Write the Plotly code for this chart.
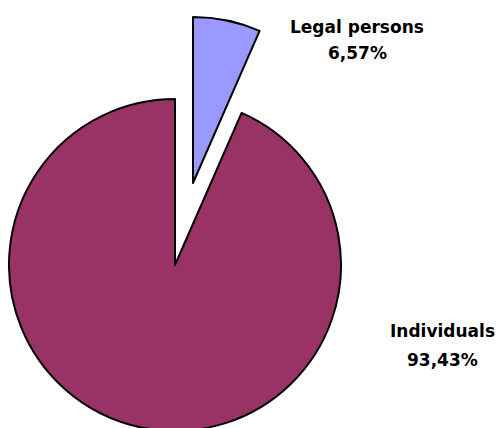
import plotly.graph_objects as go

categories = ["Legal persons", "Individuals"]
values = [6.57, 93.43]
pct_labels = ["6,57%", "93,43%"]
colors = ["#9999FF", "#993366"]

OFF = 8                    # browser default body margin
W, H = 496, 440
R = 166
cx, cy = 175 - OFF, 265 - OFF   # main pie centre (figure pixels)
dx, dy = 18, -82                # offset of the exploded slice (pixels)

def dom(cx_, cy_, r):
    return dict(x=[(cx_ - r) / W, (cx_ + r) / W],
                y=[(H - (cy_ + r)) / H, (H - (cy_ - r)) / H])

fig = go.Figure()
# main body: individuals
fig.add_trace(go.Pie(
    labels=categories, values=values, sort=False, direction="clockwise", rotation=0,
    textinfo="none", hoverinfo="label+percent",
    marker=dict(colors=["rgba(0,0,0,0)", colors[1]],
                line=dict(color=["rgba(0,0,0,0)", "black"], width=2)),
    domain=dom(cx, cy, R), showlegend=False))
# exploded slice: legal persons
fig.add_trace(go.Pie(
    labels=categories, values=values, sort=False, direction="clockwise", rotation=0,
    textinfo="none", hoverinfo="label+percent",
    marker=dict(colors=[colors[0], "rgba(0,0,0,0)"],
                line=dict(color=["black", "rgba(0,0,0,0)"], width=2)),
    domain=dom(cx + dx, cy + dy, R), showlegend=False))

font = dict(family="DejaVu Sans", size=17, color="black")
label_pos = [(357, 27, 53), (442, 331, 360)]
for name, pct, (x, y1, y2) in zip(categories, pct_labels, label_pos):
    for txt, yy in ((name, y1), (pct, y2)):
        fig.add_annotation(text=f"<b>{txt}</b>", x=(x - OFF) / W, y=1 - (yy - OFF) / H,
                           xref="paper", yref="paper", showarrow=False,
                           xanchor="center", yanchor="middle", font=font)

fig.update_layout(width=W, height=H, margin=dict(l=0, r=0, t=0, b=0),
                  paper_bgcolor="white", plot_bgcolor="white")
fig.write_html("out.html")
